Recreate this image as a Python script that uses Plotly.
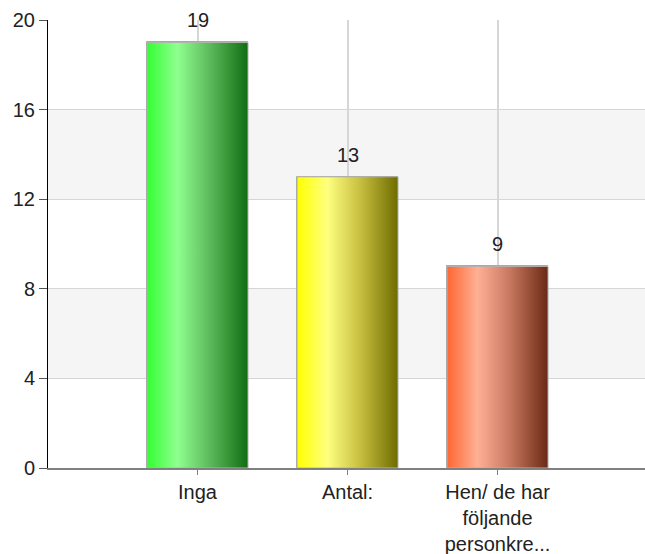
import plotly.graph_objects as go

categories = ["Inga", "Antal:", "Hen/ de har<br>följande<br>personkre..."]
values = [19, 13, 9]
gradients = [
    ["#33ff33", "#90ff90", "#5cba5c", "#126d12"],
    ["#ffff00", "#ffff80", "#c8c040", "#6e6c00"],
    ["#ff6633", "#ffb094", "#c87860", "#6a2a14"],
]
y_ticks = [0, 4, 8, 12, 16, 20]

FONT = "Liberation Sans, Arial"
bar_w = 0.673
xs = list(range(len(categories)))

fig = go.Figure()
fig.add_trace(go.Bar(
    x=xs, y=values, width=bar_w,
    marker=dict(color=[g[1] for g in gradients], line=dict(color="#a8a8a8", width=1)),
    showlegend=False, hoverinfo="x+y",
))
for i, (v, g) in enumerate(zip(values, gradients)):
    x0, x1 = i - bar_w / 2, i + bar_w / 2
    fig.add_trace(go.Scatter(
        x=[x0, x1, x1, x0, x0], y=[0, 0, v, v, 0],
        mode="lines", fill="toself",
        line=dict(color="#b0b0b0", width=1),
        fillgradient=dict(type="horizontal",
                          colorscale=[[0, g[0]], [0.3, g[1]], [0.62, g[2]], [1, g[3]]]),
        showlegend=False, hoverinfo="skip",
    ))
    fig.add_annotation(x=i, y=v, text=str(v), showarrow=False,
                       yanchor="bottom", yshift=9,
                       font=dict(size=20, color="#222222", family=FONT))

for lo, hi in [(12, 16), (4, 8)]:
    fig.add_shape(type="rect", xref="paper", yref="y", x0=0, x1=1, y0=lo, y1=hi,
                  fillcolor="#f5f5f5", line=dict(width=0), layer="below")

fig.update_layout(
    width=645, height=554,
    margin=dict(l=48, r=0, t=20, b=86),
    paper_bgcolor="white", plot_bgcolor="white",
    font=dict(family=FONT, size=20, color="#222222"),
    bargap=0,
    xaxis=dict(
        range=[-0.9967, 2.983], tickmode="array", tickvals=xs, ticktext=categories,
        showgrid=True, gridcolor="#d6d6d6", gridwidth=1.5,
        showline=True, linecolor="#808080", linewidth=1.5,
        ticks="outside", ticklen=5, tickcolor="#808080",
        zeroline=False, fixedrange=True, automargin=False,
    ),
    yaxis=dict(
        range=[0, 20], tickmode="array", tickvals=y_ticks,
        showgrid=True, gridcolor="#d6d6d6", gridwidth=1,
        showline=True, linecolor="#000000", linewidth=1,
        ticks="outside", ticklen=8, tickcolor="#555555",
        zeroline=False, fixedrange=True, automargin=False,
    ),
)

fig.write_html("out.html",
               config={"displayModeBar": False},
               post_script="document.body.style.margin='0';document.body.style.overflow='hidden';")
